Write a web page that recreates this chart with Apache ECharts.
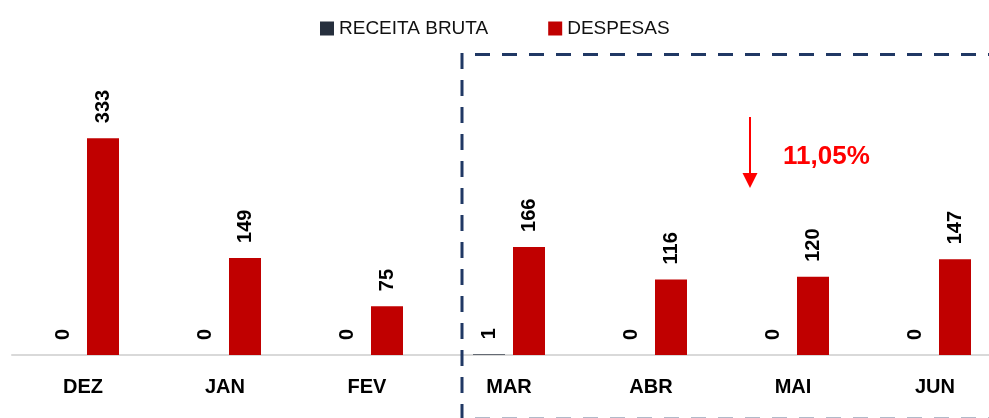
<!DOCTYPE html>
<html>
<head>
<meta charset="utf-8">
<script src="https://cdn.jsdelivr.net/npm/echarts@6/dist/echarts.min.js"></script>
<style>
  html, body { margin: 0; padding: 0; background: #fff; overflow: hidden; }
  #chart { width: 1006px; height: 418px; }
</style>
</head>
<body>
<div id="chart"></div>
<script>
const months = ['DEZ', 'JAN', 'FEV', 'MAR', 'ABR', 'MAI', 'JUN']
const receitaBruta = [0, 0, 0, 1, 0, 0, 0]
const despesas = [333, 149, 75, 166, 116, 120, 147]
const variacao = '11,05%'

const font = '"Liberation Sans", Arial, sans-serif'
const navy = '#203864'

// chart area runs past the right edge of the window, like the cropped original
const chart = echarts.init(document.getElementById('chart'))

const barLabel = {
  show: true,
  position: 'top',
  rotate: 90,
  align: 'left',
  verticalAlign: 'middle',
  distance: 15,
  color: '#000',
  fontFamily: font,
  fontWeight: 'bold',
  fontSize: 20,
}

chart.setOption({
  animation: false,
  textStyle: { fontFamily: font },
  legend: {
    top: 14,
    left: 315,
    itemWidth: 14,
    itemHeight: 14,
    itemGap: 60,
    icon: 'rect',
    textStyle: { color: '#111', fontSize: 19, fontFamily: font },
    data: ['RECEITA BRUTA', 'DESPESAS'],
  },
  grid: { left: 12, right: 0, top: 62, bottom: 63 },
  xAxis: {
    type: 'category',
    data: months,
    axisTick: { show: false },
    axisLine: { lineStyle: { color: '#d9d9d9', width: 2 } },
    axisLabel: { color: '#000', fontSize: 20, fontWeight: 'bold', margin: 22, fontFamily: font },
  },
  yAxis: { type: 'value', min: 0, max: 450, show: false, splitLine: { show: false } },
  series: [
    {
      name: 'RECEITA BRUTA',
      type: 'bar',
      data: receitaBruta,
      barWidth: 32,
      barGap: '25%',
      itemStyle: { color: '#262f3d' },
      label: barLabel,
    },
    {
      name: 'DESPESAS',
      type: 'bar',
      data: despesas,
      barWidth: 32,
      itemStyle: { color: '#c00000' },
      label: barLabel,
    },
  ],
  graphic: [
    // dashed highlight box
    { type: 'line', shape: { x1: 462, y1: 53, x2: 462, y2: 418 }, style: { stroke: navy, lineWidth: 3, lineDash: [16, 11] }, z: 10 },
    { type: 'line', shape: { x1: 475, y1: 54.5, x2: 1006, y2: 54.5 }, style: { stroke: navy, lineWidth: 3, lineDash: [15, 12] }, z: 10 },
    { type: 'line', shape: { x1: 475, y1: 418.5, x2: 1006, y2: 418.5 }, style: { stroke: navy, lineWidth: 3, lineDash: [15, 12], opacity: 0.35 }, z: 10 },
    // arrow
    { type: 'line', shape: { x1: 750, y1: 117, x2: 750, y2: 176 }, style: { stroke: '#ff0000', lineWidth: 2 }, z: 10 },
    { type: 'polygon', shape: { points: [[742.5, 173], [757.5, 173], [750, 188]] }, style: { fill: '#ff0000' }, z: 10 },
    {
      type: 'text', left: 783, top: 144, z: 10,
      style: { text: variacao, fill: '#ff0000', font: 'bold 26px ' + font },
    },
  ],
})
</script>
</body>
</html>
